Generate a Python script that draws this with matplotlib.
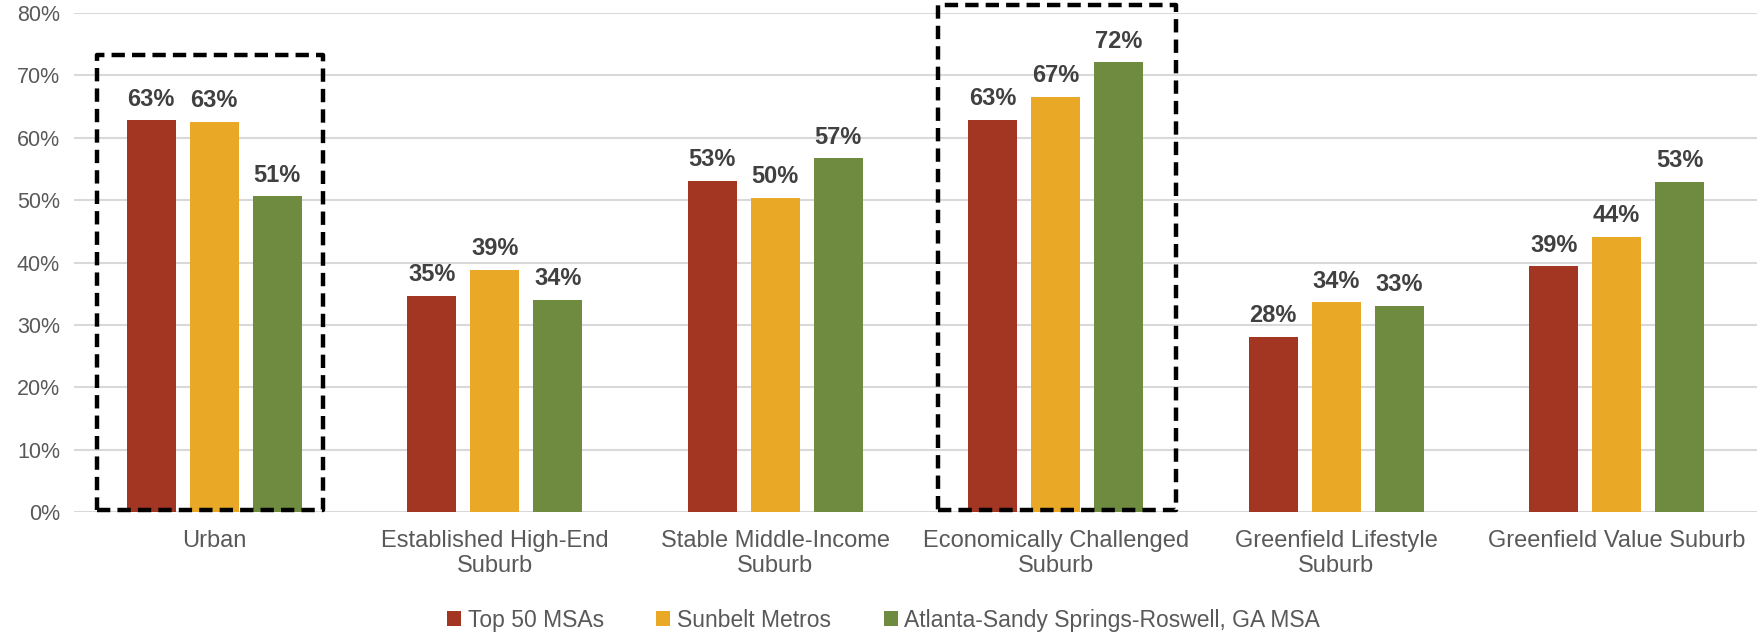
import numpy as np
import matplotlib.pyplot as plt
from matplotlib.patches import Rectangle

plt.rcParams['font.family'] = ['Liberation Sans', 'DejaVu Sans']

# Share of households by neighbourhood type
categories = ['Urban', 'Established High-End\nSuburb', 'Stable Middle-Income\nSuburb',
              'Economically Challenged\nSuburb', 'Greenfield Lifestyle\nSuburb',
              'Greenfield Value Suburb']
series_names = ['Top 50 MSAs', 'Sunbelt Metros', 'Atlanta-Sandy Springs-Roswell, GA MSA']
top50 = [62.8, 34.7, 53.1, 62.9, 28.1, 39.4]
sunbelt = [62.6, 38.8, 50.4, 66.6, 33.6, 44.1]
atlanta = [50.6, 34.0, 56.7, 72.1, 33.1, 52.9]
yticks = [0, 10, 20, 30, 40, 50, 60, 70, 80]

colors = ['#A33622', '#E9A825', '#6F8B3F']
label_color = '#404040'
text_color = '#595959'

fig = plt.figure(figsize=(17.57, 6.34), dpi=100)
ax = fig.add_axes([0.0421, 0.1924, 0.9579, 0.7871])

x = np.arange(len(categories))
width = 0.175
step = 0.2245
for i, (name, vals) in enumerate(zip(series_names, [top50, sunbelt, atlanta])):
    pos = x + (i - 1) * step
    bars = ax.bar(pos, vals, width, color=colors[i], label=name, zorder=3)
    for b, v in zip(bars, vals):
        ax.annotate(f'{v:.0f}%', (b.get_x() + b.get_width() / 2, v),
                    xytext=(0, 7), textcoords='offset points',
                    ha='center', va='bottom', fontsize=17,
                    fontweight='bold', color=label_color)

# dashed boxes round the highlighted groups: (group, left, right, top)
boxes = [(0, -0.418, 0.387, 73.2), (3, -0.418, 0.427, 81.3)]
for k, lo, hi, top in boxes:
    rect = Rectangle((k + lo, 0.3), hi - lo, top - 0.3, fill=False,
                     edgecolor='black', linewidth=3.2, linestyle=(0, (3, 1.6)),
                     joinstyle='round', clip_on=False, zorder=5)
    ax.add_patch(rect)

ax.set_xlim(-0.5, len(categories) - 0.5)
ax.set_ylim(0, 80)
ax.set_yticks(yticks)
ax.set_yticklabels([f'{t}%' for t in yticks])
ax.set_xticks(x)
ax.set_xticklabels(categories, linespacing=1.2)
ax.tick_params(axis='y', length=0, pad=10, labelsize=15.5, labelcolor=text_color)
ax.tick_params(axis='x', length=0, pad=13, labelsize=17, labelcolor=text_color)
ax.yaxis.grid(True, color='#D9D9D9', linewidth=1.5, zorder=0)
ax.set_axisbelow(True)
for s in ax.spines.values():
    s.set_visible(False)

leg = fig.legend(loc='center left', bbox_to_anchor=(0.2544, 0.022), ncol=3, frameon=False,
                 fontsize=16.5, handlelength=0.6, handleheight=0.6, handletextpad=0.3,
                 columnspacing=2.3, borderpad=0, borderaxespad=0, labelcolor=text_color)

plt.savefig('out.png', dpi=100)
